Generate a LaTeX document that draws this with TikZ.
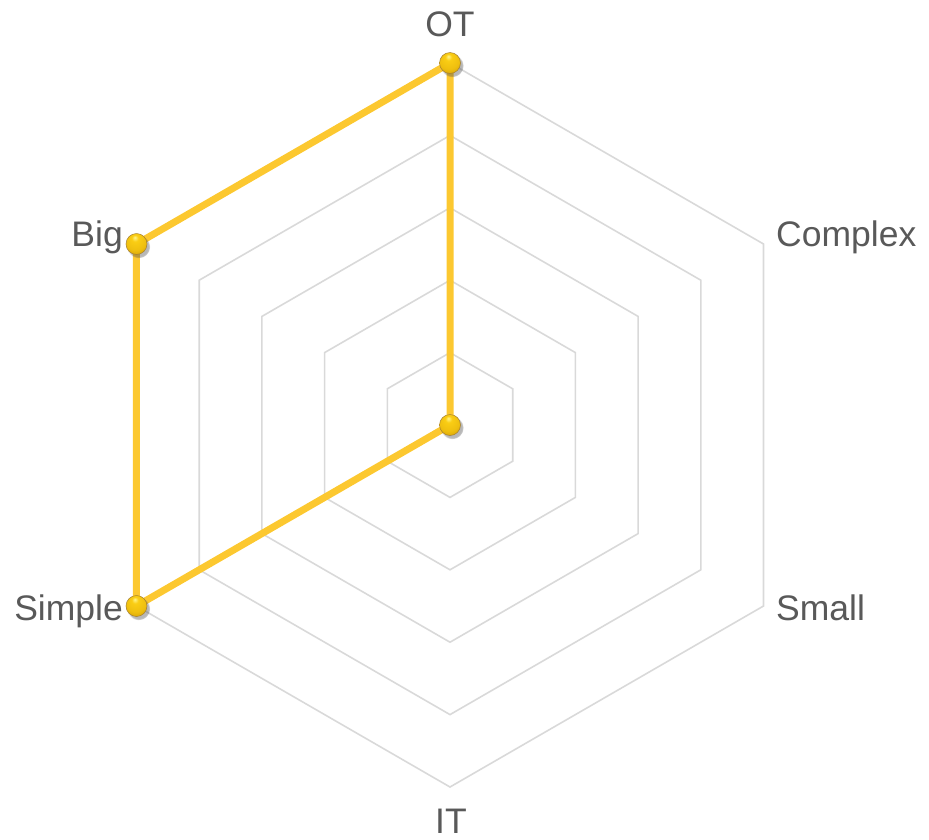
\documentclass[tikz,border=0pt]{standalone}
\usepackage{fontspec}
\setmainfont{Liberation Sans}
\usetikzlibrary{shadows,calc}
\definecolor{gridgray}{HTML}{D9D9D9}
\definecolor{labgray}{HTML}{595959}
\definecolor{linegold}{RGB}{252,200,48}
\definecolor{ballhi}{RGB}{255,245,140}
\definecolor{ballmid}{RGB}{250,205,20}
\definecolor{balldark}{RGB}{205,150,0}
\definecolor{balledge}{RGB}{140,95,0}
\pgfdeclareradialshading{goldball}{\pgfqpoint{-4bp}{16bp}}{%
  color(0bp)=(ballhi); color(8bp)=(ballmid); color(24bp)=(ballmid!75!balldark);
  color(40bp)=(balldark); color(58bp)=(balledge)}
\tikzset{
  gridline/.style={draw=gridgray, line width=1.6pt, line join=miter},
  dataline/.style={draw=linegold, line width=7pt, line join=round},
  marker/.style={circle, inner sep=0pt, minimum size=21pt, shading=goldball, draw=balledge!80, line width=0.5pt,
    circular drop shadow={shadow xshift=2pt, shadow yshift=-2.5pt, opacity=0.4, fill=black!70}},
  axislabel/.style={text=labgray, font=\fontsize{35.5}{42}\selectfont, inner sep=0pt},
}
\begin{document}
\begin{tikzpicture}[x=1pt,y=1pt]
\useasboundingbox (0,0) rectangle (929,-839);
\coordinate (ctr) at (450,-425);
% grid rings
\foreach \r in {72.4,144.8,217.2,289.6,362}{
  \draw[gridline] ($(ctr)+(90:\r)$) -- ($(ctr)+(30:\r)$) -- ($(ctr)+(-30:\r)$) -- ($(ctr)+(-90:\r)$) -- ($(ctr)+(-150:\r)$) -- ($(ctr)+(150:\r)$) -- cycle;
}
% vertices
\coordinate (vot) at ($(ctr)+(90:362)$);
\coordinate (vcomplex) at ($(ctr)+(30:362)$);
\coordinate (vsmall) at ($(ctr)+(-30:362)$);
\coordinate (vit) at ($(ctr)+(-90:362)$);
\coordinate (vsimple) at ($(ctr)+(-150:362)$);
\coordinate (vbig) at ($(ctr)+(150:362)$);
% data polygon
\draw[dataline] (vot) -- (ctr) -- (vsimple) -- (vbig) -- cycle;
% markers
\node[marker] (mot) at (vot) {};
\node[marker] (mctr) at (ctr) {};
\node[marker] (msimple) at (vsimple) {};
\node[marker] (mbig) at (vbig) {};
% labels
\node[axislabel, anchor=base] (lot) at (450,-36) {OT};
\node[axislabel, anchor=base west] (lcomplex) at (776,-246) {Complex};
\node[axislabel, anchor=base west] (lsmall) at (776,-620) {Small};
\node[axislabel, anchor=base] (lit) at (451,-833) {IT};
\node[axislabel, anchor=base east] (lsimple) at (123,-620) {Simple};
\node[axislabel, anchor=base east] (lbig) at (123,-246) {Big};
\end{tikzpicture}
\end{document}
